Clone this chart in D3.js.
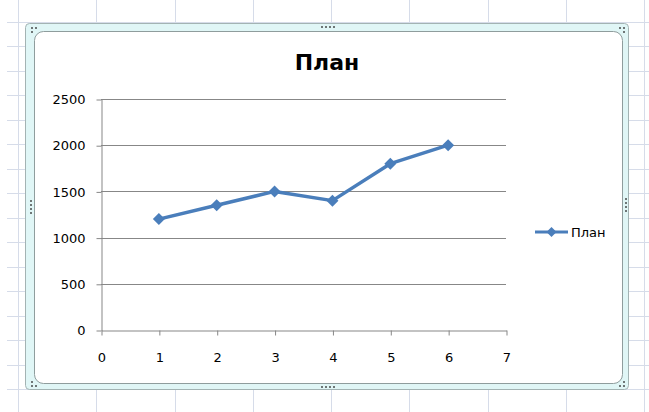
<!DOCTYPE html>
<html>
<head>
<meta charset="utf-8">
<script src="https://cdn.jsdelivr.net/npm/d3@7"></script>
<style>
    body { margin: 0; background: #fff; }
    svg { display: block; }
    text { font-family: "DejaVu Sans", sans-serif; fill: #000; }
</style>
</head>
<body>
<svg id="svg" width="649" height="412"></svg>
<script>
// chart data
var seriesName = 'План';
var xValues = [1, 2, 3, 4, 5, 6];
var planValues = [1200, 1350, 1500, 1400, 1800, 2000];
var xTicks = [0, 1, 2, 3, 4, 5, 6, 7];
var yTicks = [0, 500, 1000, 1500, 2000, 2500];

(function() {
    'use strict';

    var svg = d3.select('#svg');
    var W = 649, H = 412;

    // spreadsheet grid behind the chart
    var sheet = svg.append('g').attr('stroke', '#d6dce9').attr('stroke-width', 1);
    d3.range(18, W, 78.25).forEach(function (x) {
        x = Math.round(x) + 0.5;
        sheet.append('line').attr('x1', x).attr('x2', x).attr('y1', 0).attr('y2', H);
    });
    d3.range(22, H, 24.47).forEach(function (y) {
        y = Math.round(y) + 0.5;
        sheet.append('line').attr('x1', 7).attr('x2', W).attr('y1', y).attr('y2', y);
    });

    // chart frame (selected chart object)
    svg.append('rect')
        .attr('x', 25.5).attr('y', 23.5)
        .attr('width', 603).attr('height', 366)
        .attr('rx', 4).attr('ry', 4)
        .attr('fill', '#e0f6f6')
        .attr('stroke', '#a3b3b3');
    svg.append('rect')
        .attr('x', 34.5).attr('y', 31.5)
        .attr('width', 588).attr('height', 352)
        .attr('rx', 9).attr('ry', 9)
        .attr('fill', '#fff')
        .attr('stroke', '#8f9d9d');

    // sizing handles
    var dots = [
        [31, 27], [35, 27], [31, 31],
        [619, 27], [623, 27], [623, 31],
        [31, 381], [31, 385], [35, 385],
        [623, 381], [623, 385], [619, 385],
        [321, 26], [325, 26], [329, 26], [333, 26],
        [321, 386], [325, 386], [329, 386], [333, 386],
        [30, 200], [30, 204], [30, 208], [30, 212],
        [625, 198], [625, 202], [625, 206], [625, 210]
    ];
    svg.append('g').selectAll('rect')
        .data(dots)
        .enter()
        .append('rect')
        .attr('x', function (d) { return d[0]; })
        .attr('y', function (d) { return d[1]; })
        .attr('width', 2).attr('height', 2)
        .attr('fill', '#6e7676');

    // scales
    var x = d3.scaleLinear().domain([0, 7]).range([101, 506]);
    var y = d3.scaleLinear().domain([0, 2500]).range([330, 99]);

    var plot = svg.append('g');

    // horizontal gridlines
    plot.append('g').selectAll('line')
        .data(yTicks.filter(function (d) { return d > 0; }))
        .enter()
        .append('line')
        .attr('x1', x(0)).attr('x2', x(7))
        .attr('y1', function (d) { return Math.round(y(d)) + 0.5; })
        .attr('y2', function (d) { return Math.round(y(d)) + 0.5; })
        .attr('stroke', '#878787');

    // axes (plain integer labels, no thousands separator)
    var fmt = d3.format('d');
    var yAxis = plot.append('g')
        .attr('transform', 'translate(' + (Math.round(x(0)) + 0.5) + ',0.5)')
        .call(d3.axisLeft(y).tickValues(yTicks).tickFormat(fmt)
            .tickSize(5).tickSizeOuter(0).tickPadding(11));
    var xAxis = plot.append('g')
        .attr('transform', 'translate(0.5,' + (Math.round(y(0)) + 0.5) + ')')
        .call(d3.axisBottom(x).tickValues(xTicks).tickFormat(fmt)
            .tickSize(5).tickSizeOuter(0).tickPadding(17));

    [yAxis, xAxis].forEach(function (a) {
        a.selectAll('path, line').attr('stroke', '#878787');
        a.selectAll('text')
            .attr('fill', '#000')
            .style('font-family', '"DejaVu Sans", sans-serif')
            .style('font-size', '13px');
    });

    // series line
    var pts = xValues.map(function (d, i) { return [d, planValues[i]]; });
    var color = '#4a7ebb';

    plot.append('path')
        .datum(pts)
        .attr('fill', 'none')
        .attr('stroke', color)
        .attr('stroke-width', 3.5)
        .attr('stroke-linejoin', 'round')
        .attr('d', d3.line()
            .x(function (d) { return x(d[0]); })
            .y(function (d) { return y(d[1]); }));

    var diamond = 'M0,-6L6,0L0,6L-6,0Z';
    plot.append('g').selectAll('path')
        .data(pts)
        .enter()
        .append('path')
        .attr('d', diamond)
        .attr('fill', color)
        .attr('transform', function (d) {
            return 'translate(' + [x(d[0]), y(d[1])] + ')';
        });

    // title
    svg.append('text')
        .attr('x', 327).attr('y', 70)
        .attr('text-anchor', 'middle')
        .style('font-size', '22px')
        .style('font-weight', 'bold')
        .text(seriesName);

    // legend
    var legend = svg.append('g').attr('transform', 'translate(535,232)');
    legend.append('line')
        .attr('x1', 0).attr('x2', 33)
        .attr('stroke', color).attr('stroke-width', 3);
    legend.append('path')
        .attr('d', 'M0,-5L5,0L0,5L-5,0Z')
        .attr('fill', color)
        .attr('transform', 'translate(16.5,0)');
    legend.append('text')
        .attr('x', 36).attr('dy', '0.35em')
        .style('font-size', '13px')
        .text(seriesName);
})();
</script>
</body>
</html>
